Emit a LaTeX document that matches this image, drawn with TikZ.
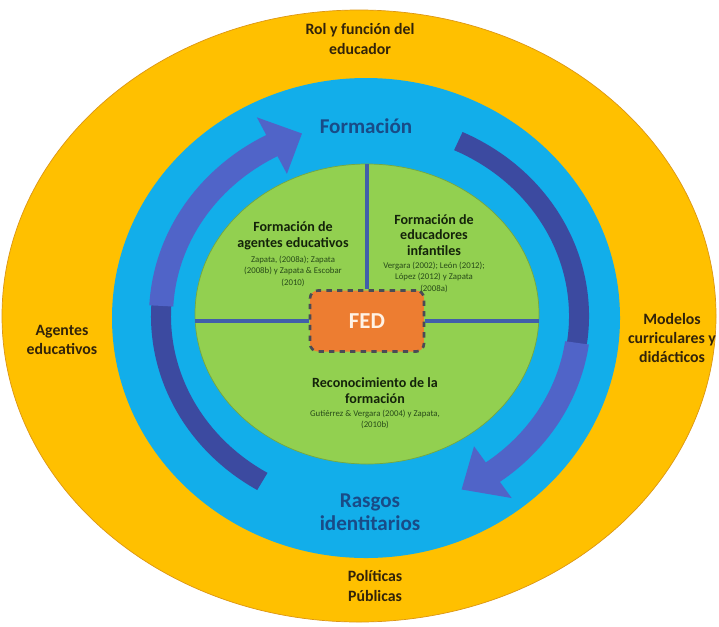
\documentclass[tikz,border=0pt]{standalone}
\usepackage{fontspec}
\setmainfont{Carlito}
\usetikzlibrary{positioning}

\definecolor{ringyellow}{RGB}{255,192,0}
\definecolor{ringedge}{RGB}{220,150,20}
\definecolor{ringblue}{RGB}{18,174,234}
\definecolor{discgreen}{RGB}{146,208,80}
\definecolor{fedorange}{RGB}{237,125,49}
\definecolor{fedborder}{RGB}{75,75,85}
\definecolor{splitline}{RGB}{65,95,170}
\definecolor{arrowdark}{RGB}{60,74,160}
\definecolor{arrowlight}{RGB}{80,100,200}
\definecolor{txtbrown}{RGB}{50,35,10}
\definecolor{txtblue}{RGB}{25,75,135}
\definecolor{txtgreen}{RGB}{20,35,10}
\definecolor{refgreen}{RGB}{40,75,25}

\begin{document}
\begin{tikzpicture}[x=0.02cm,y=-0.02cm,
  outertxt/.style={font=\bfseries\fontsize{9}{11}\selectfont, text=txtbrown, align=center},
  bigtxt/.style={font=\bfseries\fontsize{12}{13}\selectfont, text=txtblue, align=center},
  headtxt/.style={font=\bfseries\fontsize{8}{9}\selectfont, text=txtgreen, align=center, inner sep=0pt},
  reftxt/.style={font=\fontsize{5}{6.5}\selectfont, text=refgreen, align=center, inner sep=0pt},
  fedbox/.style={fill=fedorange, draw=fedborder, dashed, line width=1.5pt,
    rounded corners=4.5pt, minimum width=2.28cm, minimum height=1.22cm,
    font=\bfseries\fontsize{13}{15}\selectfont, text=white!90!orange}]

\useasboundingbox (0,0) rectangle (719,626);

\def\outring{(359,316) ellipse (357 and 306)}
\def\bluering{(366,318) ellipse (254 and 240)}
\def\greendisc{(367,314) ellipse (172 and 150)}

% flat band, and band with a head (tail, head base, tip)
\def\bandarc#1#2#3{\fill[#3] (#1:219 and 203) arc (#1:#2:219 and 203)
  -- (#2:199 and 183) arc (#2:#1:199 and 183) -- cycle;}
\def\headarrow#1#2#3#4{\fill[#4] (#1:221 and 205) arc (#1:#2:221 and 205)
  -- (#2:241 and 225) -- (#3:209 and 193) -- (#2:177 and 161)
  -- (#2:197 and 181) arc (#2:#1:197 and 181) -- cycle;}

\fill[ringyellow] \outring;
\draw[ringedge, thin] \outring;
\fill[ringblue] \bluering;

\begin{scope}[shift={(370,316)}]
 \bandarc{121}{192}{arrowdark}
 \headarrow{183}{242}{251}{arrowlight}
 \bandarc{-65}{16}{arrowdark}
 \headarrow{8}{54}{64}{arrowlight}
\end{scope}

\fill[discgreen] \greendisc;
\draw[discgreen!80!black, thin] \greendisc;

% centre box and split lines
\node[fedbox] (fed) at (367,321) {FED};
\coordinate (gtop) at (367,164);
\coordinate (gleft) at (195,321);
\coordinate (gright) at (539,321);
\draw[splitline, line width=2.2pt] (fed.north) -- (gtop);
\draw[splitline, line width=2.2pt] (gleft) -- (fed.west);
\draw[splitline, line width=2.2pt] (fed.east) -- (gright);

% outer ring
\node[outertxt] (rol) at (360,39) {Rol y función del\\educador};
\node[outertxt] (agentes) at (62,340) {Agentes\\educativos};
\node[outertxt] (modelos) at (672,338) {Modelos\\curriculares y\\didácticos};
\node[outertxt] (politicas) at (375,586) {Políticas\\Públicas};

% blue ring
\node[bigtxt] (formacion) at (366,126) {Formación};
\node[bigtxt] (rasgos) at (370,512) {Rasgos\\identitarios};

% green quadrants
\node[headtxt] (agentesh) at (293,236) {Formación de\\agentes educativos};
\node[reftxt, below=3pt of agentesh] (agentesr) {Zapata, (2008a); Zapata\\(2008b) y Zapata \& Escobar\\(2010)};
\node[headtxt] (infantilh) at (434,235) {Formación de\\educadores\\infantiles};
\node[reftxt, below=3pt of infantilh] (infantilr) {Vergara (2002); León (2012);\\López (2012) y Zapata\\(2008a)};
\node[headtxt] (reconoch) at (375,391) {Reconocimiento de la\\formación};
\node[reftxt, below=3pt of reconoch] (reconocr) {Gutiérrez \& Vergara (2004) y Zapata,\\(2010b)};

\end{tikzpicture}
\end{document}
